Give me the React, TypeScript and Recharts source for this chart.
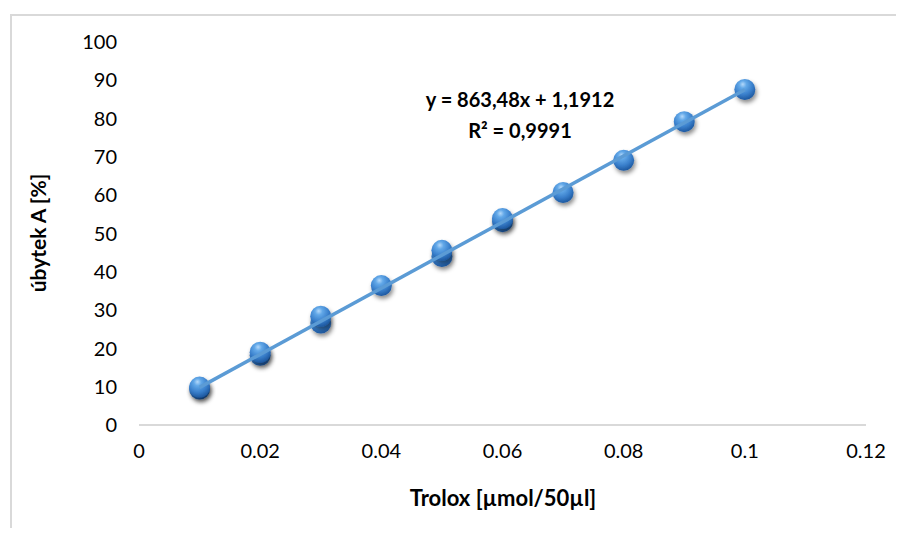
import React from "react";
import { ScatterChart, Scatter, XAxis, YAxis, Label } from "recharts";

const xValues = [0.01, 0.01, 0.02, 0.02, 0.03, 0.03, 0.04, 0.05, 0.05, 0.06, 0.06, 0.07, 0.08, 0.09, 0.1];
const yValues = [9.4, 9.9, 18.2, 19.0, 26.6, 28.4, 36.4, 44.0, 45.6, 53.1, 53.9, 60.7, 69.1, 79.2, 87.6];
const xTicks = [0, 0.02, 0.04, 0.06, 0.08, 0.1, 0.12];
const yTicks = [0, 10, 20, 30, 40, 50, 60, 70, 80, 90, 100];
const trendSlope = 863.48;
const trendIntercept = 1.1912;
const trendRange = [0.01, 0.1];
const equationText = "y = 863,48x + 1,1912";
const r2Text = "R² = 0,9991";
const xTitle = "Trolox [µmol/50µl]";
const yTitle = "úbytek A [%]";

const points = xValues.map((x, i) => ({ x, y: yValues[i] }));
const trend = trendRange.map((x) => ({ x, y: trendSlope * x + trendIntercept }));

const FONT = "Lato, 'Open Sans', sans-serif";

const Ball = (props: any) => {
  const { cx, cy } = props;
  if (cx == null || cy == null) return null;
  return <circle cx={cx} cy={cy} r={10.5} fill="url(#ballGrad)" filter="url(#ballShadow)" />;
};

export default function App() {
  return (
    <div style={{ position: "relative", width: 904, height: 536, margin: -8, background: "#fff", overflow: "hidden" }}>
      <svg width={0} height={0} style={{ position: "absolute" }}>
        <defs>
          <radialGradient id="ballGrad" cx="42%" cy="30%" r="70%" fx="40%" fy="25%">
            <stop offset="0%" stopColor="#b3d8fa" />
            <stop offset="25%" stopColor="#62a8e8" />
            <stop offset="65%" stopColor="#3a80cc" />
            <stop offset="100%" stopColor="#1d58a0" />
          </radialGradient>
          <filter id="ballShadow" x="-50%" y="-50%" width="220%" height="220%">
            <feDropShadow dx="1.5" dy="3" stdDeviation="2" floodColor="#000" floodOpacity="0.45" />
          </filter>
        </defs>
      </svg>
      <div
        style={{
          position: "absolute",
          left: 10,
          top: 14,
          width: 894,
          height: 522,
          borderTop: "2px solid #d9d9d9",
          borderLeft: "2px solid #d9d9d9",
          boxSizing: "border-box",
        }}
      />
      <div style={{ position: "absolute", left: 8, top: 8 }}>
        <ScatterChart width={888} height={520} margin={{ top: 34, right: 30, bottom: 33, left: 71 }}>
          <XAxis
            type="number"
            dataKey="x"
            domain={[0, 0.12]}
            ticks={xTicks}
            tickFormatter={(v: number) => String(v)}
            axisLine={{ stroke: "#d9d9d9", strokeWidth: 2 }}
            tickLine={false}
            tickSize={0}
            tickMargin={19}
            height={70}
            tick={{ fill: "#000", fontSize: 20, fontFamily: FONT }}
          >
            <Label
              content={() => (
                <text
                  x={495}
                  y={489}
                  textAnchor="middle"
                  dominantBaseline="central"
                  style={{ fill: "#000", fontSize: 22, fontWeight: 700, fontFamily: FONT }}
                >
                  {xTitle}
                </text>
              )}
            />
          </XAxis>
          <YAxis
            type="number"
            dataKey="y"
            domain={[0, 100]}
            ticks={yTicks}
            axisLine={false}
            tickLine={false}
            tickSize={0}
            tickMargin={22}
            width={60}
            tick={{ fill: "#000", fontSize: 20, fontFamily: FONT }}
          >
            <Label
              content={() => (
                <text
                  x={29}
                  y={225}
                  transform="rotate(-90 29 225)"
                  textAnchor="middle"
                  dominantBaseline="central"
                  style={{ fill: "#000", fontSize: 21, fontWeight: 700, fontFamily: FONT }}
                >
                  {yTitle}
                </text>
              )}
            />
          </YAxis>
          <Scatter data={points} shape={Ball} isAnimationActive={false} />
          <Scatter
            data={trend}
            line={{ stroke: "#5b9bd5", strokeWidth: 3.5 }}
            shape={() => null}
            isAnimationActive={false}
          />
        </ScatterChart>
      </div>
      <div
        style={{
          position: "absolute",
          left: 410,
          top: 84,
          width: 220,
          textAlign: "center",
          fontFamily: FONT,
          fontWeight: 700,
          fontSize: 20,
          lineHeight: "31px",
          color: "#000",
        }}
      >
        <div>{equationText}</div>
        <div>{r2Text}</div>
      </div>
    </div>
  );
}
